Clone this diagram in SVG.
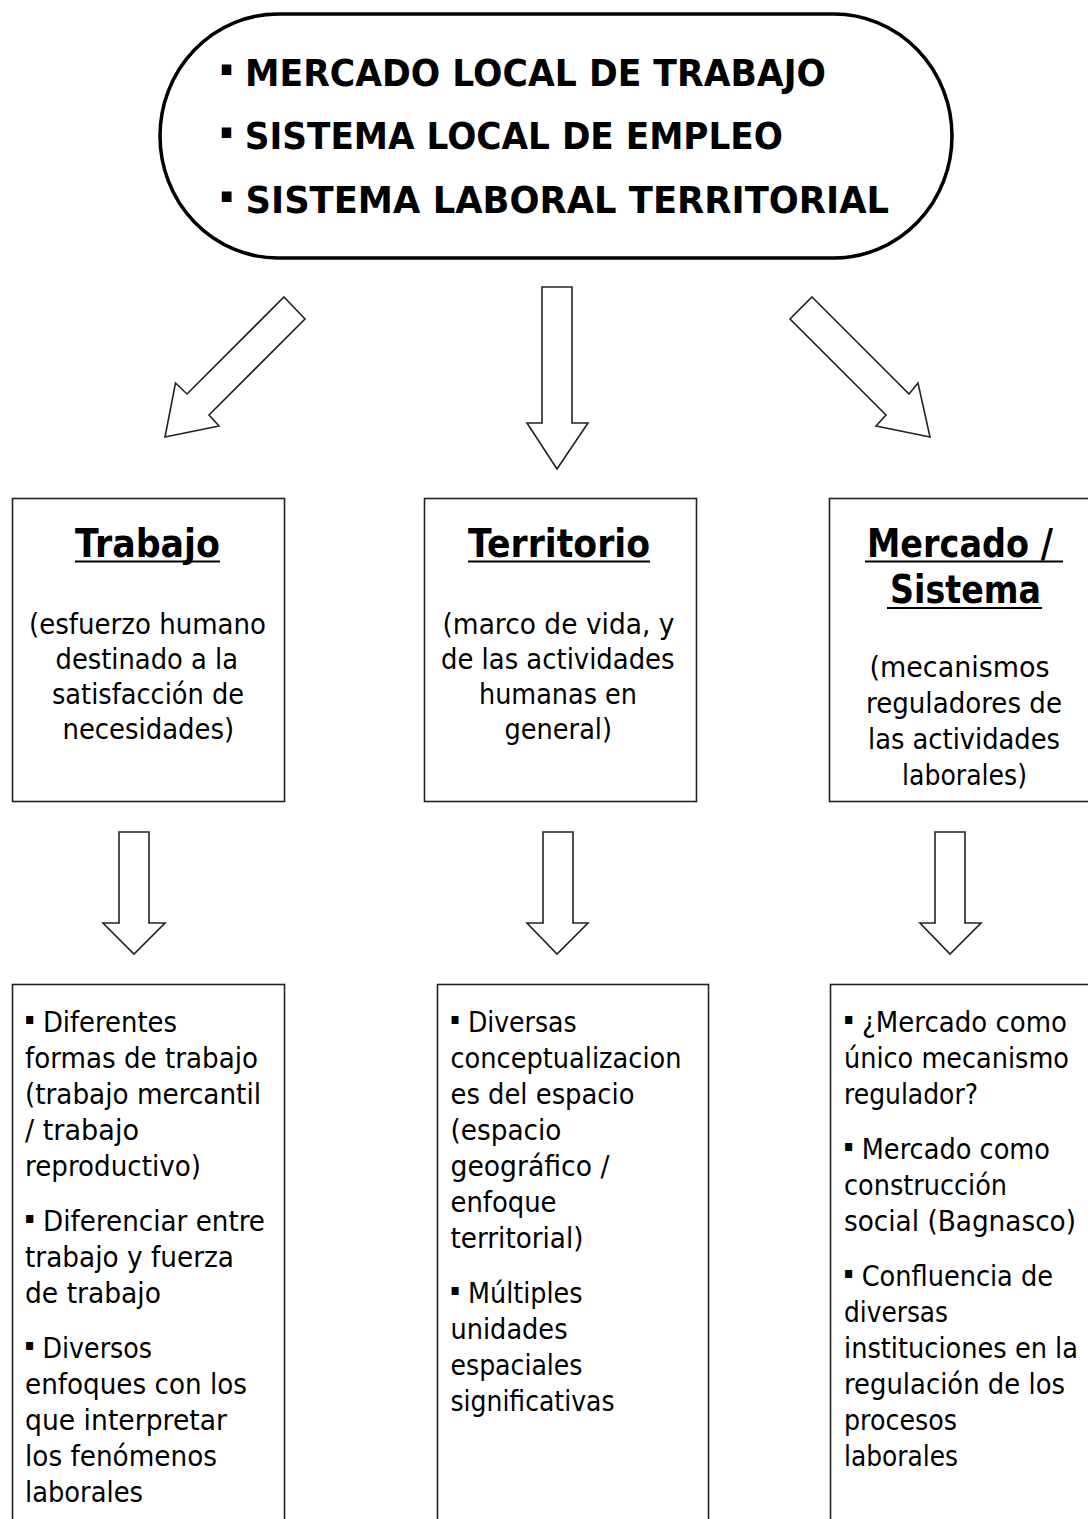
<svg xmlns="http://www.w3.org/2000/svg" width="1088" height="1519" viewBox="0 0 1088 1519">
<style>
  .bg { fill: #ffffff; }
  .pill { fill: #ffffff; stroke: #000000; stroke-width: 3.5; }
  .box { fill: #ffffff; stroke: #222222; stroke-width: 1.6; }
  .arrow { fill: #ffffff; stroke: #222222; stroke-width: 1.6; stroke-linejoin: miter; }
  .ul { stroke: #000000; stroke-width: 2; }
  .head { font-family: "DejaVu Sans", Verdana, sans-serif; font-weight: bold; font-size: 38px; fill: #000000; }
  .title { font-family: "DejaVu Sans", Verdana, sans-serif; font-weight: bold; font-size: 39px; fill: #000000; }
  .sub { font-family: "DejaVu Sans", Verdana, sans-serif; font-size: 29px; fill: #000000; }
  .item { font-family: "DejaVu Sans", Verdana, sans-serif; font-size: 29px; fill: #000000; }
  .hb { font-size: 21px; }
  .ib { font-size: 16px; }
</style>
<rect class="bg" x="0" y="0" width="1088" height="1519"/>

<g id="connectors">
  <polygon class="arrow" points="284,297 305,319 209,415 219,426 165,437 175.5,383 187,394"/>
  <polygon class="arrow" points="542,287 572,287 572,423 588,423 557,469 527,423 542,423"/>
  <polygon class="arrow" points="812,297 909,394 918,383 930,437 876,426 886,415 790,319"/>
  <polygon class="arrow" points="119,832 149,832 149,923 165,923 134,954 103,923 119,923"/>
  <polygon class="arrow" points="543,832 573,832 573,923 588,923 557,954 527,923 543,923"/>
  <polygon class="arrow" points="935,832 965,832 965,923 981,923 950,954 920,923 935,923"/>
</g>

<g id="node-top">
  <rect class="pill" x="160" y="14" width="792" height="244" rx="118" ry="122"/>
  <text class="head" x="220" y="86" textLength="606" lengthAdjust="spacingAndGlyphs"><tspan class="hb" dy="-11">▪</tspan><tspan dy="11"> MERCADO LOCAL DE TRABAJO</tspan></text>
  <text class="head" x="220" y="149" textLength="563" lengthAdjust="spacingAndGlyphs"><tspan class="hb" dy="-11">▪</tspan><tspan dy="11"> SISTEMA LOCAL DE EMPLEO</tspan></text>
  <text class="head" x="220" y="213" textLength="669" lengthAdjust="spacingAndGlyphs"><tspan class="hb" dy="-11">▪</tspan><tspan dy="11"> SISTEMA LABORAL TERRITORIAL</tspan></text>
</g>

<g id="node-trabajo">
  <rect class="box" x="12.5" y="498.5" width="272" height="303"/>
  <text class="title" x="75" y="557" textLength="145" lengthAdjust="spacingAndGlyphs">Trabajo</text>
  <line class="ul" x1="75" y1="561.5" x2="220" y2="561.5"/>
  <text class="sub" x="29" y="634" textLength="237" lengthAdjust="spacingAndGlyphs">(esfuerzo humano</text>
  <text class="sub" x="55.5" y="669" textLength="182.5" lengthAdjust="spacingAndGlyphs">destinado a la</text>
  <text class="sub" x="52" y="704" textLength="192" lengthAdjust="spacingAndGlyphs">satisfacción de</text>
  <text class="sub" x="62.5" y="739" textLength="171.5" lengthAdjust="spacingAndGlyphs">necesidades)</text>
</g>

<g id="node-territorio">
  <rect class="box" x="424.5" y="498.5" width="272" height="303"/>
  <text class="title" x="468" y="557" textLength="182" lengthAdjust="spacingAndGlyphs">Territorio</text>
  <line class="ul" x1="468" y1="561.5" x2="650" y2="561.5"/>
  <text class="sub" x="442.5" y="634" textLength="232" lengthAdjust="spacingAndGlyphs">(marco de vida, y</text>
  <text class="sub" x="441" y="669" textLength="233.5" lengthAdjust="spacingAndGlyphs">de las actividades</text>
  <text class="sub" x="479" y="704" textLength="158" lengthAdjust="spacingAndGlyphs">humanas en</text>
  <text class="sub" x="504.5" y="739" textLength="107.5" lengthAdjust="spacingAndGlyphs">general)</text>
</g>

<g id="node-mercado">
  <rect class="box" x="829.5" y="498.5" width="270" height="303"/>
  <text class="title" x="867" y="557" textLength="186" lengthAdjust="spacingAndGlyphs">Mercado /</text>
  <line class="ul" x1="865" y1="561.5" x2="1063" y2="561.5"/>
  <text class="title" x="890" y="603" textLength="151" lengthAdjust="spacingAndGlyphs">Sistema</text>
  <line class="ul" x1="887" y1="608" x2="1042" y2="608"/>
  <text class="sub" x="869.5" y="677" textLength="180" lengthAdjust="spacingAndGlyphs">(mecanismos</text>
  <text class="sub" x="866" y="713" textLength="196" lengthAdjust="spacingAndGlyphs">reguladores de</text>
  <text class="sub" x="868" y="749" textLength="192" lengthAdjust="spacingAndGlyphs">las actividades</text>
  <text class="sub" x="902" y="785" textLength="125" lengthAdjust="spacingAndGlyphs">laborales)</text>
</g>

<g id="node-list-trabajo">
  <rect class="box" x="12.5" y="984.5" width="272" height="545"/>
  <text class="item" x="25" y="1032" textLength="152" lengthAdjust="spacingAndGlyphs"><tspan class="ib" dy="-8">▪</tspan><tspan dy="8"> Diferentes</tspan></text>
  <text class="item" x="25" y="1068" textLength="233" lengthAdjust="spacingAndGlyphs">formas de trabajo</text>
  <text class="item" x="25" y="1104" textLength="236" lengthAdjust="spacingAndGlyphs">(trabajo mercantil</text>
  <text class="item" x="25" y="1140" textLength="114" lengthAdjust="spacingAndGlyphs">/ trabajo</text>
  <text class="item" x="25" y="1176" textLength="176" lengthAdjust="spacingAndGlyphs">reproductivo)</text>
  <text class="item" x="25" y="1231" textLength="240" lengthAdjust="spacingAndGlyphs"><tspan class="ib" dy="-8">▪</tspan><tspan dy="8"> Diferenciar entre</tspan></text>
  <text class="item" x="25" y="1267" textLength="209" lengthAdjust="spacingAndGlyphs">trabajo y fuerza</text>
  <text class="item" x="25" y="1303" textLength="136" lengthAdjust="spacingAndGlyphs">de trabajo</text>
  <text class="item" x="25" y="1358" textLength="127" lengthAdjust="spacingAndGlyphs"><tspan class="ib" dy="-8">▪</tspan><tspan dy="8"> Diversos</tspan></text>
  <text class="item" x="25" y="1394" textLength="222" lengthAdjust="spacingAndGlyphs">enfoques con los</text>
  <text class="item" x="25" y="1430" textLength="202" lengthAdjust="spacingAndGlyphs">que interpretar</text>
  <text class="item" x="25" y="1466" textLength="192" lengthAdjust="spacingAndGlyphs">los fenómenos</text>
  <text class="item" x="25" y="1502" textLength="118" lengthAdjust="spacingAndGlyphs">laborales</text>
</g>

<g id="node-list-territorio">
  <rect class="box" x="437.5" y="984.5" width="271" height="545"/>
  <text class="item" x="450.5" y="1032" textLength="126" lengthAdjust="spacingAndGlyphs"><tspan class="ib" dy="-8">▪</tspan><tspan dy="8"> Diversas</tspan></text>
  <text class="item" x="450.5" y="1068" textLength="231" lengthAdjust="spacingAndGlyphs">conceptualizacion</text>
  <text class="item" x="450.5" y="1104" textLength="184" lengthAdjust="spacingAndGlyphs">es del espacio</text>
  <text class="item" x="450.5" y="1140" textLength="111" lengthAdjust="spacingAndGlyphs">(espacio</text>
  <text class="item" x="450.5" y="1176" textLength="159" lengthAdjust="spacingAndGlyphs">geográfico /</text>
  <text class="item" x="450.5" y="1212" textLength="106" lengthAdjust="spacingAndGlyphs">enfoque</text>
  <text class="item" x="450.5" y="1248" textLength="133" lengthAdjust="spacingAndGlyphs">territorial)</text>
  <text class="item" x="450.5" y="1303" textLength="132" lengthAdjust="spacingAndGlyphs"><tspan class="ib" dy="-8">▪</tspan><tspan dy="8"> Múltiples</tspan></text>
  <text class="item" x="450.5" y="1339" textLength="117" lengthAdjust="spacingAndGlyphs">unidades</text>
  <text class="item" x="450.5" y="1375" textLength="132" lengthAdjust="spacingAndGlyphs">espaciales</text>
  <text class="item" x="450.5" y="1411" textLength="164" lengthAdjust="spacingAndGlyphs">significativas</text>
</g>

<g id="node-list-mercado">
  <rect class="box" x="830.5" y="984.5" width="270" height="545"/>
  <text class="item" x="844" y="1032" textLength="223" lengthAdjust="spacingAndGlyphs"><tspan class="ib" dy="-8">▪</tspan><tspan dy="8"> ¿Mercado como</tspan></text>
  <text class="item" x="844" y="1068" textLength="225" lengthAdjust="spacingAndGlyphs">único mecanismo</text>
  <text class="item" x="844" y="1104" textLength="134" lengthAdjust="spacingAndGlyphs">regulador?</text>
  <text class="item" x="844" y="1159" textLength="206" lengthAdjust="spacingAndGlyphs"><tspan class="ib" dy="-8">▪</tspan><tspan dy="8"> Mercado como</tspan></text>
  <text class="item" x="844" y="1195" textLength="163" lengthAdjust="spacingAndGlyphs">construcción</text>
  <text class="item" x="844" y="1231" textLength="232" lengthAdjust="spacingAndGlyphs">social (Bagnasco)</text>
  <text class="item" x="844" y="1286" textLength="209" lengthAdjust="spacingAndGlyphs"><tspan class="ib" dy="-8">▪</tspan><tspan dy="8"> Confluencia de</tspan></text>
  <text class="item" x="844" y="1322" textLength="104" lengthAdjust="spacingAndGlyphs">diversas</text>
  <text class="item" x="844" y="1358" textLength="234" lengthAdjust="spacingAndGlyphs">instituciones en la</text>
  <text class="item" x="844" y="1394" textLength="221" lengthAdjust="spacingAndGlyphs">regulación de los</text>
  <text class="item" x="844" y="1430" textLength="113" lengthAdjust="spacingAndGlyphs">procesos</text>
  <text class="item" x="844" y="1466" textLength="114" lengthAdjust="spacingAndGlyphs">laborales</text>
</g>
</svg>
